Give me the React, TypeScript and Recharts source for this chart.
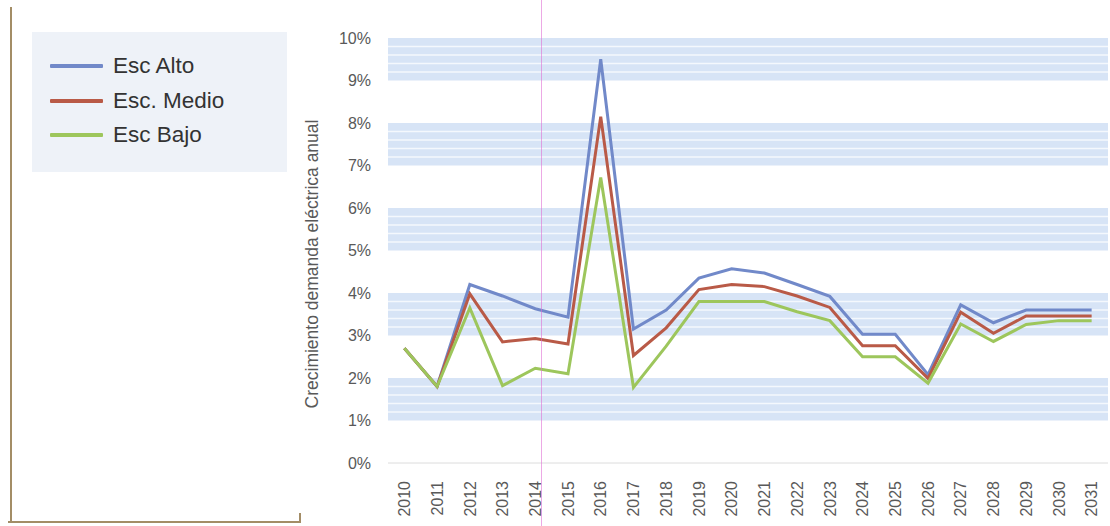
import React from 'react';
import {
  LineChart,
  Line,
  XAxis,
  YAxis,
  ReferenceArea,
  ReferenceLine,
} from 'recharts';

// Annual electricity demand growth (%) per scenario
const years = [
  '2010', '2011', '2012', '2013', '2014', '2015', '2016', '2017', '2018', '2019', '2020',
  '2021', '2022', '2023', '2024', '2025', '2026', '2027', '2028', '2029', '2030', '2031',
];
const escAlto = [2.7, 1.8, 4.2, 3.93, 3.63, 3.43, 9.5, 3.15, 3.6, 4.35, 4.57, 4.47, 4.2, 3.92, 3.03, 3.03, 2.08, 3.72, 3.3, 3.6, 3.6, 3.6];
const escMedio = [2.7, 1.8, 3.98, 2.85, 2.93, 2.8, 8.15, 2.53, 3.18, 4.08, 4.2, 4.15, 3.93, 3.66, 2.76, 2.76, 1.99, 3.55, 3.05, 3.46, 3.46, 3.46];
const escBajo = [2.7, 1.8, 3.65, 1.82, 2.23, 2.1, 6.72, 1.78, 2.75, 3.8, 3.8, 3.8, 3.56, 3.35, 2.5, 2.5, 1.88, 3.27, 2.86, 3.26, 3.35, 3.35];

const seriesNames = ['Esc Alto', 'Esc. Medio', 'Esc Bajo'];
const seriesKeys = ['alto', 'medio', 'bajo'];
const seriesColors = ['#7189c9', '#b95a47', '#9dc65c'];

const yTicks = [0, 1, 2, 3, 4, 5, 6, 7, 8, 9, 10];
// Shaded horizontal bands (lower, upper) in percent
const bands: [number, number][] = [[1, 2], [3, 4], [5, 6], [7, 8], [9, 10]];
const stripeSteps = [0.2, 0.4, 0.6, 0.8];

const data = years.map((year, i) => ({
  year,
  alto: escAlto[i],
  medio: escMedio[i],
  bajo: escBajo[i],
}));

const FONT = '"Liberation Sans", Arial, sans-serif';
const TEXT = '#595959';

const YearTick = (props: any) => {
  const { x, y, payload } = props;
  return (
    <text
      x={x}
      y={y + 10}
      transform={`rotate(-90, ${x}, ${y + 10})`}
      textAnchor="end"
      dy="0.36em"
      fill={TEXT}
      fontSize={16}
      fontFamily={FONT}
    >
      {payload.value}
    </text>
  );
};

const PercentTick = (props: any) => {
  const { x, y, payload } = props;
  return (
    <text x={x - 9} y={y} dy="0.36em" textAnchor="end" fill={TEXT} fontSize={16} fontFamily={FONT}>
      {`${payload.value}%`}
    </text>
  );
};

const AxisTitle = (props: any) => {
  const { viewBox } = props;
  const cx = viewBox.x + 12;
  const cy = 264;
  return (
    <text
      x={cx}
      y={cy}
      transform={`rotate(-90, ${cx}, ${cy})`}
      textAnchor="middle"
      dy="0.36em"
      fill={TEXT}
      fontSize={17.5}
      fontFamily={FONT}
    >
      Crecimiento demanda eléctrica anual
    </text>
  );
};

export default function App() {
  return (
    <div
      style={{
        position: 'absolute',
        left: 0,
        top: 0,
        width: 1110,
        height: 526,
        background: '#ffffff',
        overflow: 'hidden',
        fontFamily: FONT,
      }}
    >
      {/* page frame lines */}
      <div style={{ position: 'absolute', left: 10, top: 7, width: 2, height: 516, background: '#a38d66' }} />
      <div style={{ position: 'absolute', left: 8, top: 521, width: 293, height: 2, background: '#a38d66' }} />
      <div style={{ position: 'absolute', left: 299, top: 513, width: 2, height: 10, background: '#a38d66' }} />
      <div style={{ position: 'absolute', left: 541, top: 0, width: 1, height: 526, background: '#e070d4', opacity: 0.6, zIndex: 2 }} />

      {/* legend */}
      <div
        style={{
          position: 'absolute',
          left: 32,
          top: 32,
          width: 255,
          height: 140,
          background: '#eef2f8',
        }}
      >
        {seriesNames.map((name, i) => (
          <div
            key={name}
            style={{
              position: 'absolute',
              left: 18,
              top: 19 + i * 34.5,
              height: 30,
              display: 'flex',
              alignItems: 'center',
            }}
          >
            <div style={{ width: 53, height: 4, background: seriesColors[i], borderRadius: 1 }} />
            <span style={{ marginLeft: 10, fontSize: 22.5, color: '#333333', lineHeight: '30px' }}>{name}</span>
          </div>
        ))}
      </div>

      <div style={{ position: 'absolute', left: 0, top: 0 }}>
        <LineChart width={1110} height={526} data={data} margin={{ top: 38, right: 2, left: 300, bottom: 0 }}>
          {bands.map(([lo, hi]) => (
            <ReferenceArea key={`band-${lo}`} y1={lo} y2={hi} fill="#d7e4f6" fillOpacity={1} stroke="none" />
          ))}
          {bands.flatMap(([lo]) =>
            stripeSteps.map((s) => (
              <ReferenceLine key={`stripe-${lo}-${s}`} y={lo + s} stroke="#f4f8fd" strokeWidth={1.5} />
            )),
          )}
          <XAxis
            dataKey="year"
            scale="band"
            interval={0}
            height={63}
            tickLine={false}
            axisLine={{ stroke: '#dcdcdc' }}
            tick={<YearTick />}
          />
          <YAxis
            width={88}
            domain={[0, 10]}
            ticks={yTicks}
            axisLine={false}
            tickLine={false}
            tick={<PercentTick />}
            label={<AxisTitle />}
          />
          {seriesKeys.map((key, i) => (
            <Line
              key={key}
              type="linear"
              dataKey={key}
              name={seriesNames[i]}
              stroke={seriesColors[i]}
              strokeWidth={3}
              dot={false}
              activeDot={false}
              isAnimationActive={false}
            />
          ))}
        </LineChart>
      </div>
    </div>
  );
}
